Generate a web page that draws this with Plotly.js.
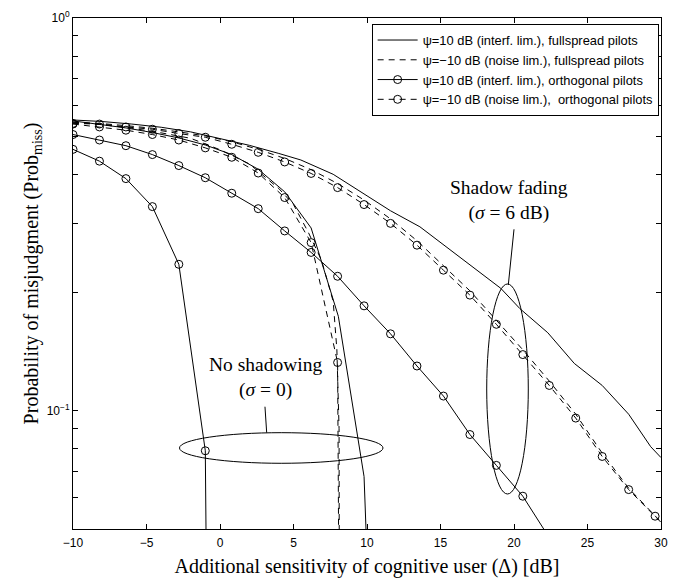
<!DOCTYPE html>
<html><head><meta charset="utf-8">
<script src="https://cdn.plot.ly/plotly-3.0.1.min.js"></script>
<style>html,body{margin:0;padding:0;background:#fff}#chart{width:678px;height:578px}</style>
</head><body><div id="chart"></div>
<script>
// ---------- data ----------
const legendNames = [
  "ψ=10 dB (interf. lim.), fullspread pilots",
  "ψ=−10 dB (noise lim.), fullspread pilots",
  "ψ=10 dB (interf. lim.), orthogonal pilots",
  "ψ=−10 dB (noise lim.),  orthogonal pilots"
];

// Shadow fading (sigma = 6 dB)
const xFullInterfShadow = [-10,-8,-6,-4,-2,0,2,4,5.5,7.7,9.8,11.6,13.6,16,19.1,20.4,22.3,24.1,26,27.8,29.3,30];
const yFullInterfShadow = [0.55,0.545,0.537,0.527,0.513,0.494,0.474,0.452,0.435,0.400,0.357,0.323,0.294,0.251,0.205,0.182,0.158,0.132,0.116,0.098,0.081,0.076];

const xOrthGrid = [-10,-8.2,-6.4,-4.6,-2.8,-1,0.8,2.6,4.4,6.2,8,9.8,11.6,13.4,15.2,17,18.8,20.6,22.4,24.2,26,27.8,29.6,31.4];
const yFullNoiseShadow = [0.543,0.539,0.532,0.524,0.513,0.501,0.484,0.463,0.439,0.411,0.379,0.344,0.308,0.271,0.234,0.202,0.170,0.143,0.119,0.098,0.078,0.0635,0.054,0.046];
const yOrthNoiseShadow = [0.539,0.537,0.528,0.521,0.508,0.497,0.477,0.455,0.430,0.402,0.370,0.335,0.300,0.264,0.228,0.197,0.166,0.139,0.116,0.0958,0.0765,0.063,0.0539,0.046];

const xOrthInterfShadow = [-10,-8.2,-6.4,-4.6,-2.8,-1,0.8,2.6,4.4,6.2,8,9.8,11.6,13.4,15.2,17,18.8,20.6,22.4];
const yOrthInterfShadow = [0.505,0.489,0.473,0.449,0.421,0.392,0.358,0.327,0.287,0.253,0.220,0.185,0.157,0.130,0.109,0.087,0.0726,0.0606,0.0475];

// No shadowing (sigma = 0)
const xFullInterfNoShadow = [-10,-8.2,-6.4,-4.6,-2.8,-1,0.8,2.6,4.4,6.2,7.05,8.05,9.8,9.94];
const yFullInterfNoShadow = [0.547,0.537,0.525,0.511,0.495,0.475,0.449,0.412,0.361,0.292,0.230,0.174,0.068,0.049];

const xFullNoiseNoShadow = [-10,-8,-6,-4,-2,0,2,4,5,6,6.9,7.7,7.95,8.1,8.12];
const yFullNoiseNoShadow = [0.543,0.535,0.524,0.510,0.494,0.462,0.425,0.368,0.335,0.285,0.242,0.190,0.143,0.090,0.030];

const xOrthInterfNoShadow = [-10,-8.2,-6.4,-4.6,-2.8,-1,-0.9];
const yOrthInterfNoShadow = [0.463,0.432,0.390,0.331,0.236,0.0791,0.030];

const xOrthNoiseNoShadow = [-10,-8.2,-6.4,-4.6,-2.8,-1,0.8,2.6,4.4,6.2,8,8.1];
const yOrthNoiseNoShadow = [0.537,0.528,0.518,0.505,0.489,0.467,0.442,0.403,0.349,0.268,0.1327,0.030];

const xTickVals = [-10,-5,0,5,10,15,20,25,30];
const yTickVals = [0.1,1];
const yTickText = ["10<sup>−1</sup>","10<sup>0</sup>"];
const yMinorVals = [0.06,0.07,0.08,0.09,0.2,0.3,0.4,0.5,0.6,0.7,0.8,0.9];

// ---------- styles ----------
const DASH = "6px,5px";
const lineSolid = {color:"#000", width:1};
const lineDash = {color:"#000", width:1, dash:DASH};
const circ = {symbol:"circle-open", size:8, color:"#000", line:{width:1, color:"#000"}};

function tr(x, y, name, group, show, line, marker){
  const t = {x:x, y:y, type:"scatter", name:name, legendgroup:group, showlegend:show, line:line, hoverinfo:"skip"};
  if(marker){ t.mode = "lines+markers"; t.marker = marker; } else { t.mode = "lines"; }
  return t;
}

const traces = [
  tr(xFullInterfShadow, yFullInterfShadow, legendNames[0], "a", true, lineSolid),
  tr(xOrthGrid, yFullNoiseShadow, legendNames[1], "b", true, lineDash),
  tr(xOrthInterfShadow, yOrthInterfShadow, legendNames[2], "c", true, lineSolid, circ),
  tr(xOrthGrid, yOrthNoiseShadow, legendNames[3], "d", true, lineDash, circ),
  tr(xFullInterfNoShadow, yFullInterfNoShadow, legendNames[0], "a", false, lineSolid),
  tr(xFullNoiseNoShadow, yFullNoiseNoShadow, legendNames[1], "b", false, lineDash),
  tr(xOrthInterfNoShadow, yOrthInterfNoShadow, legendNames[2], "c", false, lineSolid, circ),
  tr(xOrthNoiseNoShadow, yOrthNoiseNoShadow, legendNames[3], "d", false, lineDash, circ)
];

const serif = "Liberation Serif, Times New Roman, serif";
const sans = "Liberation Sans, Arial, Helvetica, sans-serif";
const L = Math.log10;
const shapeLine = {color:"#000", width:1};

const layout = {
  width:678, height:578,
  margin:{l:73, r:17, t:18, b:49},
  paper_bgcolor:"#fff", plot_bgcolor:"#fff",
  showlegend:true,
  legend:{x:0.996, xanchor:"right", y:0.988, yanchor:"top", bgcolor:"#fff",
    bordercolor:"#000", borderwidth:1, font:{family:sans, size:12.9, color:"#000"},
    tracegroupgap:0, itemwidth:40},
  xaxis:{range:[-10,30], tickvals:xTickVals, ticks:"inside", ticklen:5, tickcolor:"#000",
    showline:true, linecolor:"#000", linewidth:1, mirror:"ticks", showgrid:false, zeroline:false,
    ticklabelstandoff:3,
    tickfont:{family:sans, size:12, color:"#000"},
    title:{text:"Additional sensitivity of cognitive user (Δ) [dB]", font:{family:serif, size:20, color:"#000"}, standoff:13}},
  yaxis:{type:"log", range:[L(0.05), 0], tickvals:yTickVals, ticktext:yTickText,
    ticks:"inside", ticklen:5, tickcolor:"#000",
    minor:{tickvals:yMinorVals, ticks:"inside", ticklen:5, tickcolor:"#000", showgrid:false},
    showline:true, linecolor:"#000", linewidth:1, mirror:"ticks", showgrid:false, zeroline:false,
    tickfont:{family:sans, size:12, color:"#000"},
    title:{text:"Probability of misjudgment (Prob<sub>miss</sub>)", font:{family:serif, size:20, color:"#000"}, standoff:2}},
  shapes:[
    {type:"circle", xref:"paper", yref:"paper", x0:0.1811, x1:0.5272, y0:0.1286, y1:0.1885, line:shapeLine},
    {type:"line", xref:"paper", yref:"paper", x0:0.3265, x1:0.3294, y0:0.2393, y1:0.1885, line:shapeLine},
    {type:"circle", xref:"paper", yref:"paper", x0:0.7036, x1:0.7743, y0:0.0685, y1:0.4795, line:shapeLine},
    {type:"line", xref:"paper", yref:"paper", x0:0.75, x1:0.7403, y0:0.5865, y1:0.4775, line:shapeLine}
  ],
  annotations:[
    {text:"Shadow fading<br>(<i>σ</i> = 6 dB)", xref:"x", yref:"y", x:19.65, y:-0.4635, showarrow:false, align:"center", font:{family:serif, size:19.5, color:"#000"}},
    {text:"No shadowing<br>(<i>σ</i> = 0)", xref:"x", yref:"y", x:3.08, y:-0.9143, showarrow:false, align:"center", font:{family:serif, size:19.5, color:"#000"}}
  ]
};

Plotly.newPlot("chart", traces, layout, {displayModeBar:false, staticPlot:true});
</script></body></html>
